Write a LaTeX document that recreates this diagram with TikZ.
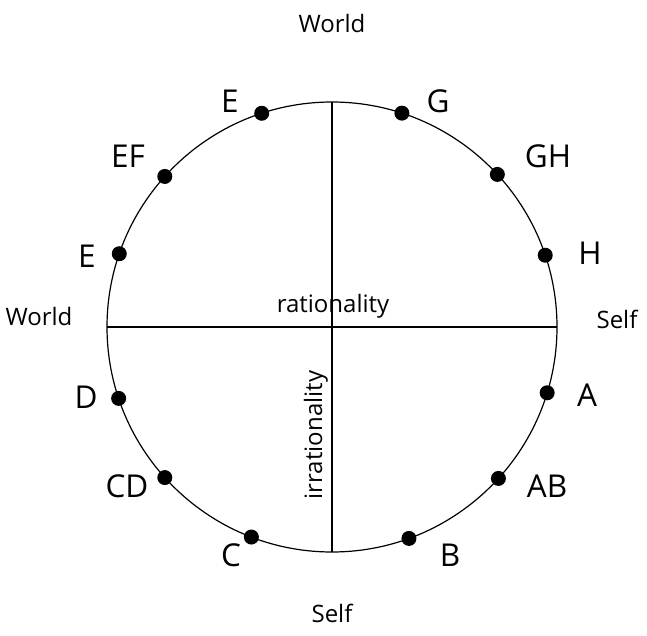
\documentclass[tikz,border=0pt]{standalone}
\usepackage{fontspec}
\setmainfont{Open Sans}
\usetikzlibrary{calc}
\begin{document}
\begin{tikzpicture}[x=1pt,y=-1pt,
  dotm/.style={circle,fill=black,inner sep=0pt,minimum size=15pt},
  big/.style={font=\fontsize{31.5}{34}\selectfont,inner sep=0pt},
  small/.style={font=\fontsize{24}{27}\selectfont,inner sep=0pt}]
\useasboundingbox (0,0) rectangle (647,636);
\coordinate (c) at (332,327);
\draw[line width=1.2pt] (c) circle (225);
\coordinate (top) at (332,102);
\coordinate (bot) at (332,552);
\coordinate (lft) at (107,327);
\coordinate (rgt) at (557,327);
\draw[line width=1.2pt] (top) -- (bot);
\draw[line width=1.2pt] (lft) -- (rgt);
% dots (angles measured with the y axis pointing down)
\foreach \n/\a in {e1/-108.2, g/-71.9, ef/-138, gh/-42.7, e2/-161, h/-18.6, d/161.5, a/17, cd/138, ab/42.3, cc/111, b/70}
  \node[dotm] (\n) at ($(c)+(\a:225)$) {};
% big labels
\node[big] (le1) at (230,101) {E};
\node[big] (lg) at (438,101) {G};
\node[big] (lef) at (128,156) {EF};
\node[big] (lgh) at (548,156) {GH};
\node[big] (le2) at (87,256) {E};
\node[big] (lh) at (590,253) {H};
\node[big] (ld) at (86,397) {D};
\node[big] (la) at (587,395) {A};
\node[big] (lcd) at (127,486) {CD};
\node[big] (lab) at (547,486) {AB};
\node[big] (lc) at (231,555) {C};
\node[big] (lb) at (450,555) {B};
% small labels
\node[small,anchor=base] (wt) at (332,33) {World};
\node[small,anchor=base] (wl) at (39,325) {World};
\node[small,anchor=base] (sr) at (617,328) {Self};
\node[small,anchor=base] (sb) at (332,622) {Self};
\node[small,anchor=base] (rat) at (333,312) {rationality};
\node[small,anchor=base,rotate=90] (irr) at (322,435) {irrationality};
\end{tikzpicture}
\end{document}
